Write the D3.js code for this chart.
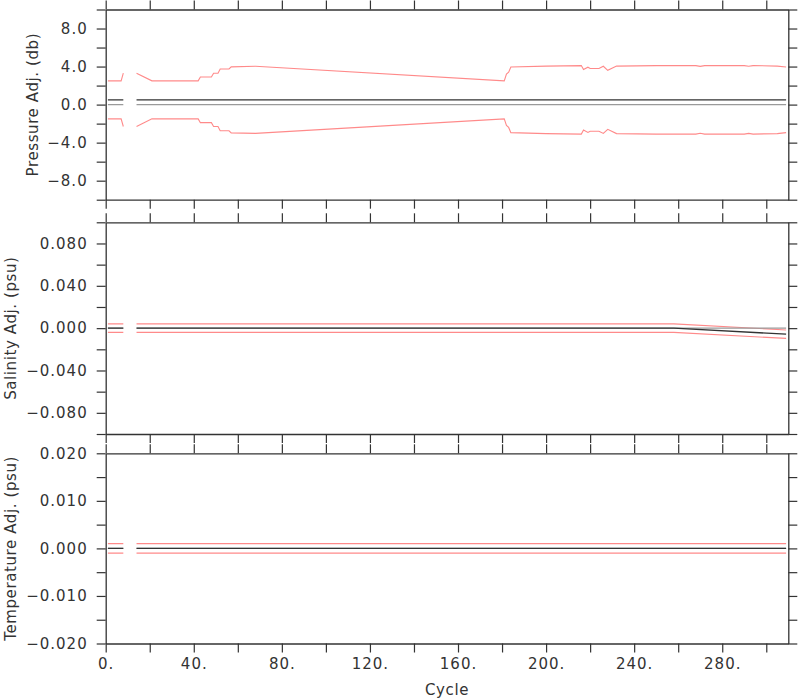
<!DOCTYPE html>
<html>
<head>
<meta charset="utf-8">
<script src="https://cdn.jsdelivr.net/npm/d3@7"></script>
<style>
  html, body { margin: 0; padding: 0; background: #fff; }
  svg { display: block; }
  text { font-family: "DejaVu Sans", sans-serif; fill: #333; }
</style>
</head>
<body>
<svg id="chart" width="800" height="700"></svg>
<script>
// ---------------- DATA ----------------
// a null value marks the break in the record (missing cycles)
const presCycles = [1,7,8,11,14,21,42,43,48,49,51,52,56,57,68,181,182,183,184,200,216,217,219,220,224,226,228,232,250,268,270,272,290,292,294,305,309];
const presAdj    = presCycles.map(c => c === 11 ? null : 0.5);
const presRef    = presCycles.map(c => c === 11 ? null : 0.0);
const presErr    = [2.0,2.0,2.8,null,2.8,2.0,2.0,2.4,2.4,2.8,2.8,3.25,3.25,3.47,3.53,2.0,2.7,2.9,3.45,3.55,3.6,3.18,3.43,3.3,3.3,3.53,3.1,3.55,3.6,3.6,3.52,3.6,3.6,3.53,3.6,3.55,3.45];

const salCycles  = [1,8,11,14,258,309];
const salAdj     = [0,0,null,0,0,-0.0057];
const salRef     = [0,0,null,0,0,0];
const salErr     = [0.004,0.004,null,0.004,0.004,0.004];

const tempCycles = [1,8,11,14,309];
const tempAdj    = [0,0,null,0,0];
const tempRef    = [0,0,null,0,0];
const tempErr    = [0.001,0.001,null,0.001,0.001];

const xDomain       = [0, 310];
const xMinorTicks   = d3.range(0, 301, 20);
const xLabelTicks   = [0,40,80,120,160,200,240,280];
const xTickLabels   = ["0.","40.","80.","120.","160.","200.","240.","280."];

const presDomain    = [-10, 10];
const presMinor     = [-10,-8,-6,-4,-2,0,2,4,6,8,10];
const presLabeled   = [-8,-4,0,4,8];

const salDomain     = [-0.1, 0.1];
const salMinor      = [-0.1,-0.08,-0.06,-0.04,-0.02,0,0.02,0.04,0.06,0.08,0.1];
const salLabeled    = [-0.08,-0.04,0,0.04,0.08];

const tempDomain    = [-0.02, 0.02];
const tempMinor     = [-0.02,-0.015,-0.01,-0.005,0,0.005,0.01,0.015,0.02];
const tempLabeled   = [-0.02,-0.01,0,0.01,0.02];

// ---------------- LAYOUT ----------------
const svg = d3.select("#chart");
const left = 105.7, right = 788.3;
const x = d3.scaleLinear().domain(xDomain).range([left, right]);
const TICK = 9;

const panels = [
  { top: 9.5,   bottom: 199.7, domain: presDomain, minor: presMinor, labeled: presLabeled, fmt: d3.format(".1f"),
    cycles: presCycles, adj: presAdj, ref: presRef, err: presErr,
    title: "Pressure Adj. (db)", titleX: 37.5 },
  { top: 222.3, bottom: 434,   domain: salDomain, minor: salMinor, labeled: salLabeled, fmt: d3.format(".3f"),
    cycles: salCycles, adj: salAdj, ref: salRef, err: salErr,
    title: "Salinity Adj. (psu)", titleX: 16 },
  { top: 453.3, bottom: 643.5, domain: tempDomain, minor: tempMinor, labeled: tempLabeled, fmt: d3.format(".3f"),
    cycles: tempCycles, adj: tempAdj, ref: tempRef, err: tempErr,
    title: "Temperature Adj. (psu)", titleX: 16, last: true }
];

panels.forEach(p => {
  const y = d3.scaleLinear().domain(p.domain).range([p.bottom, p.top]);
  const g = svg.append("g");

  const pts = p.cycles.map((c, i) => ({ c, a: p.adj[i], r: p.ref[i], e: p.err[i] }));
  const mk = acc => d3.line().defined(d => d.a !== null && d.e !== null).x(d => x(d.c)).y(d => y(acc(d)));

  const clip = "clip" + Math.round(p.top);
  svg.append("clipPath").attr("id", clip).append("rect")
    .attr("x", left).attr("y", p.top).attr("width", right - left).attr("height", p.bottom - p.top);
  const lg = g.append("g").attr("clip-path", `url(#${clip})`);

  lg.append("path").datum(pts).attr("d", mk(d => d.a + d.e))
    .attr("fill", "none").attr("stroke", "#ff8a8a").attr("stroke-width", 1.1);
  lg.append("path").datum(pts).attr("d", mk(d => d.a - d.e))
    .attr("fill", "none").attr("stroke", "#ff8a8a").attr("stroke-width", 1.1);
  lg.append("path").datum(pts).attr("d", mk(d => d.r))
    .attr("fill", "none").attr("stroke", "#9a9a9a").attr("stroke-width", 1.3);
  lg.append("path").datum(pts).attr("d", mk(d => d.a))
    .attr("fill", "none").attr("stroke", "#333").attr("stroke-width", 1.3);

  // axes
  const labeledSet = new Set(p.labeled.map(v => v.toFixed(4)));
  const yLeft = d3.axisLeft(y).tickValues(p.minor).tickSize(TICK).tickSizeOuter(0).tickPadding(9)
    .tickFormat(d => labeledSet.has(d.toFixed(4)) ? p.fmt(d) : "");
  const yRight = d3.axisRight(y).tickValues(p.minor).tickSize(TICK).tickSizeOuter(0).tickFormat("");
  const xTop = d3.axisTop(x).tickValues(xMinorTicks).tickSize(TICK).tickSizeOuter(0).tickFormat("");
  const xBot = d3.axisBottom(x).tickValues(xMinorTicks).tickSize(TICK).tickSizeOuter(0).tickPadding(6)
    .tickFormat(d => p.last ? (xLabelTicks.indexOf(d) >= 0 ? xTickLabels[xLabelTicks.indexOf(d)] : "") : "");

  const ax = [
    g.append("g").attr("transform", `translate(${left},0)`).call(yLeft),
    g.append("g").attr("transform", `translate(${right},0)`).call(yRight),
    g.append("g").attr("transform", `translate(0,${p.top})`).call(xTop),
    g.append("g").attr("transform", `translate(0,${p.bottom})`).call(xBot)
  ];
  ax.forEach(a => {
    a.selectAll("path.domain").attr("stroke", "#333").attr("stroke-width", 1.3);
    a.selectAll(".tick line").attr("stroke", "#333").attr("stroke-width", 1.2);
    a.selectAll(".tick text").attr("font-family", '"DejaVu Sans", sans-serif')
      .attr("font-size", 15).attr("fill", "#333").attr("letter-spacing", 1);
  });

  svg.append("text")
    .attr("transform", `translate(${p.titleX},${(p.top + p.bottom) / 2}) rotate(-90)`)
    .attr("text-anchor", "middle").attr("font-size", 15).attr("letter-spacing", 0.6)
    .text(p.title);
});

svg.append("text").attr("x", (left + right) / 2).attr("y", 695)
  .attr("text-anchor", "middle").attr("font-size", 15).attr("letter-spacing", 0.6).text("Cycle");
</script>
</body>
</html>
